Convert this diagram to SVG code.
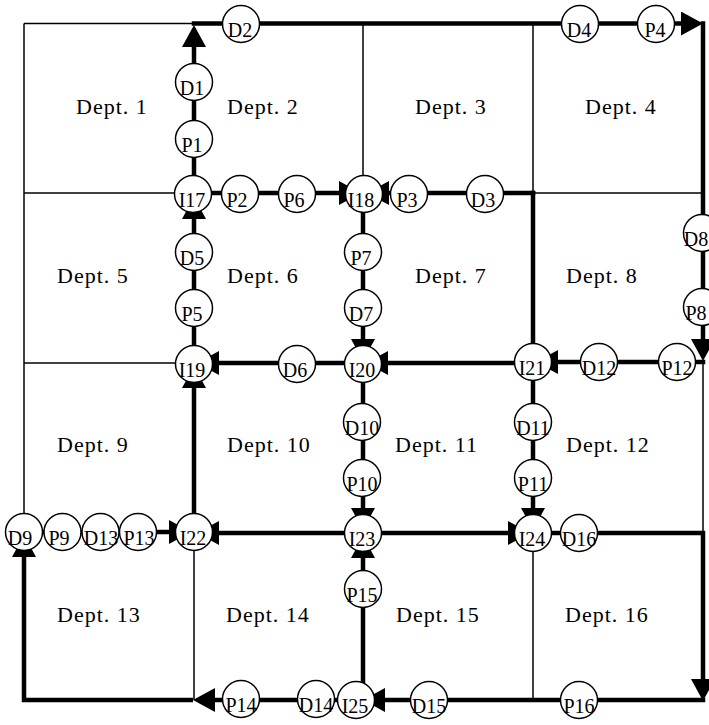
<svg xmlns="http://www.w3.org/2000/svg" width="709" height="725" viewBox="0 0 709 725">
<style>
.thin{stroke:#000;stroke-width:1.5;fill:none}
.thick{stroke:#000;stroke-width:4.5;fill:none;stroke-linejoin:miter}
.node circle{fill:#fff;stroke:#000;stroke-width:1.5}
.node text{font-family:"Liberation Serif","Times New Roman",serif;font-size:20px;text-anchor:middle;fill:#000}
.dept text{font-family:"Liberation Serif","Times New Roman",serif;font-size:22px;letter-spacing:1px;fill:#000}
</style>
<defs>
<marker id="ah" markerUnits="userSpaceOnUse" markerWidth="22" markerHeight="24" refX="17" refY="12" orient="auto">
<path d="M0,0 L22,12 L0,24 z" fill="#000"/>
</marker>
</defs>
<rect width="709" height="725" fill="#fff"/>
<g id="grid">
<path class="thin" d="M24,23.5 V532"/>
<path class="thin" d="M24,23.5 H194"/>
<path class="thin" d="M363,23.5 V193"/>
<path class="thin" d="M533,23.5 V193"/>
<path class="thin" d="M24,193 H194"/>
<path class="thin" d="M533,193 H703"/>
<path class="thin" d="M24,363 H194"/>
<path class="thin" d="M703,362 V533"/>
<path class="thin" d="M194,533 V700"/>
<path class="thin" d="M533,533 V700"/>
</g>
<g id="connectors">
<path class="thick" d="M194,532 V371" marker-end="url(#ah)"/>
<path class="thick" d="M194,363 V202" marker-end="url(#ah)"/>
<path class="thick" d="M194,194 V30" marker-end="url(#ah)"/>
<path class="thick" d="M191.75,23.5 H698" marker-end="url(#ah)"/>
<path class="thick" d="M703,21.25 V356" marker-end="url(#ah)"/>
<path class="thick" d="M705.25,362 H541" marker-end="url(#ah)"/>
<path class="thick" d="M533,363 H371" marker-end="url(#ah)"/>
<path class="thick" d="M363,363 H202" marker-end="url(#ah)"/>
<path class="thick" d="M533,363 V190.75"/>
<path class="thick" d="M535.25,193 H372" marker-end="url(#ah)"/>
<path class="thick" d="M194,193 H356" marker-end="url(#ah)"/>
<path class="thick" d="M363,194 V356" marker-end="url(#ah)"/>
<path class="thick" d="M363,363 V525" marker-end="url(#ah)"/>
<path class="thick" d="M533,363 V525" marker-end="url(#ah)"/>
<path class="thick" d="M363,533 H525" marker-end="url(#ah)"/>
<path class="thick" d="M363,533 H202" marker-end="url(#ah)"/>
<path class="thick" d="M24,532 H186" marker-end="url(#ah)"/>
<path class="thick" d="M533,533 H703 V696" marker-end="url(#ah)"/>
<path class="thick" d="M705.25,700 H368" marker-end="url(#ah)"/>
<path class="thick" d="M356,700 H198" marker-end="url(#ah)"/>
<path class="thick" d="M193,700 H24 V540" marker-end="url(#ah)"/>
<path class="thick" d="M363,700 V541" marker-end="url(#ah)"/>
</g>
<g class="dept">
<g id="dept1"><text x="76" y="114">Dept. 1</text></g>
<g id="dept2"><text x="227" y="114">Dept. 2</text></g>
<g id="dept3"><text x="415" y="114">Dept. 3</text></g>
<g id="dept4"><text x="585" y="114">Dept. 4</text></g>
<g id="dept5"><text x="57" y="283">Dept. 5</text></g>
<g id="dept6"><text x="227" y="283">Dept. 6</text></g>
<g id="dept7"><text x="415" y="283">Dept. 7</text></g>
<g id="dept8"><text x="566" y="283">Dept. 8</text></g>
<g id="dept9"><text x="57" y="452">Dept. 9</text></g>
<g id="dept10"><text x="227" y="452">Dept. 10</text></g>
<g id="dept11"><text x="395" y="452">Dept. 11</text></g>
<g id="dept12"><text x="566" y="452">Dept. 12</text></g>
<g id="dept13"><text x="57" y="622">Dept. 13</text></g>
<g id="dept14"><text x="226" y="622">Dept. 14</text></g>
<g id="dept15"><text x="396" y="622">Dept. 15</text></g>
<g id="dept16"><text x="565" y="622">Dept. 16</text></g>
</g>
<g id="D2" class="node"><circle cx="241" cy="24" r="18.5"/><text x="240" y="37">D2</text></g>
<g id="D4" class="node"><circle cx="580" cy="24" r="18.5"/><text x="579" y="37">D4</text></g>
<g id="P4" class="node"><circle cx="656" cy="24" r="18.5"/><text x="655" y="37">P4</text></g>
<g id="D1" class="node"><circle cx="194" cy="82" r="18.5"/><text x="192" y="95">D1</text></g>
<g id="P1" class="node"><circle cx="194" cy="139" r="18.5"/><text x="192" y="152">P1</text></g>
<g id="I17" class="node"><circle cx="193" cy="194" r="18.5"/><text x="192" y="207">I17</text></g>
<g id="P2" class="node"><circle cx="240" cy="194" r="18.5"/><text x="237" y="207">P2</text></g>
<g id="P6" class="node"><circle cx="297" cy="194" r="18.5"/><text x="294" y="207">P6</text></g>
<g id="I18" class="node"><circle cx="364" cy="194" r="18.5"/><text x="361" y="207">I18</text></g>
<g id="P3" class="node"><circle cx="409" cy="194" r="18.5"/><text x="407" y="207">P3</text></g>
<g id="D3" class="node"><circle cx="485" cy="194" r="18.5"/><text x="483" y="207">D3</text></g>
<g id="D8" class="node"><circle cx="702" cy="233" r="18.5"/><text x="696" y="246">D8</text></g>
<g id="P8" class="node"><circle cx="702" cy="307" r="18.5"/><text x="696" y="320">P8</text></g>
<g id="D5" class="node"><circle cx="194" cy="252" r="18.5"/><text x="192" y="265">D5</text></g>
<g id="P5" class="node"><circle cx="194" cy="308" r="18.5"/><text x="192" y="321">P5</text></g>
<g id="P7" class="node"><circle cx="363" cy="252" r="18.5"/><text x="361" y="265">P7</text></g>
<g id="D7" class="node"><circle cx="363" cy="308" r="18.5"/><text x="361" y="321">D7</text></g>
<g id="I19" class="node"><circle cx="194" cy="364" r="18.5"/><text x="192" y="377">I19</text></g>
<g id="D6" class="node"><circle cx="297" cy="364" r="18.5"/><text x="295" y="377">D6</text></g>
<g id="I20" class="node"><circle cx="363" cy="364" r="18.5"/><text x="362" y="377">I20</text></g>
<g id="I21" class="node"><circle cx="533" cy="362" r="18.5"/><text x="532" y="375">I21</text></g>
<g id="D12" class="node"><circle cx="599" cy="362" r="18.5"/><text x="599" y="375">D12</text></g>
<g id="P12" class="node"><circle cx="677" cy="362" r="18.5"/><text x="677" y="375">P12</text></g>
<g id="D10" class="node"><circle cx="362" cy="422" r="18.5"/><text x="362" y="435">D10</text></g>
<g id="P10" class="node"><circle cx="362" cy="478" r="18.5"/><text x="362" y="491">P10</text></g>
<g id="D11" class="node"><circle cx="533" cy="422" r="18.5"/><text x="533" y="435">D11</text></g>
<g id="P11" class="node"><circle cx="533" cy="478" r="18.5"/><text x="533" y="491">P11</text></g>
<g id="D9" class="node"><circle cx="24" cy="532" r="18.5"/><text x="20" y="545">D9</text></g>
<g id="P9" class="node"><circle cx="62.5" cy="532" r="18.5"/><text x="59" y="545">P9</text></g>
<g id="D13" class="node"><circle cx="100.5" cy="532" r="18.5"/><text x="101" y="545">D13</text></g>
<g id="P13" class="node"><circle cx="138" cy="532" r="18.5"/><text x="139" y="545">P13</text></g>
<g id="I22" class="node"><circle cx="194" cy="532" r="18.5"/><text x="193" y="545">I22</text></g>
<g id="I23" class="node"><circle cx="363" cy="533" r="18.5"/><text x="362" y="546">I23</text></g>
<g id="I24" class="node"><circle cx="533" cy="533" r="18.5"/><text x="532" y="546">I24</text></g>
<g id="D16" class="node"><circle cx="579" cy="533" r="18.5"/><text x="579" y="546">D16</text></g>
<g id="P15" class="node"><circle cx="363" cy="589" r="18.5"/><text x="362" y="602">P15</text></g>
<g id="P14" class="node"><circle cx="241" cy="699" r="18.5"/><text x="241" y="712">P14</text></g>
<g id="D14" class="node"><circle cx="316" cy="699" r="18.5"/><text x="316" y="712">D14</text></g>
<g id="I25" class="node"><circle cx="356" cy="700" r="18.5"/><text x="355" y="713">I25</text></g>
<g id="D15" class="node"><circle cx="429" cy="700" r="18.5"/><text x="429" y="713">D15</text></g>
<g id="P16" class="node"><circle cx="579" cy="700" r="18.5"/><text x="579" y="713">P16</text></g>
</svg>
